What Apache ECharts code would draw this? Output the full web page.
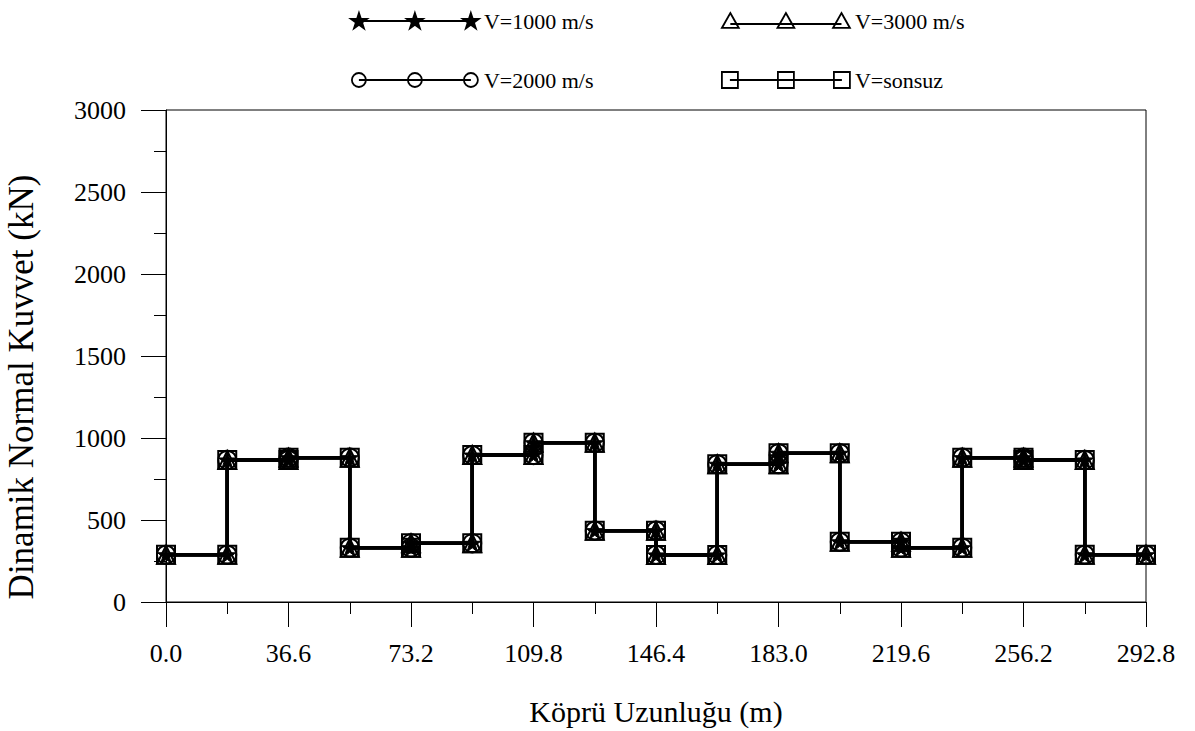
<!DOCTYPE html>
<html>
<head>
<meta charset="utf-8">
<script src="https://cdn.jsdelivr.net/npm/echarts@6/dist/echarts.min.js"></script>
<style>
html,body{margin:0;padding:0;background:#ffffff;}
#chart{width:1195px;height:731px;}
</style>
</head>
<body>
<div id="chart"></div>
<script>
// ---- data ----
const nodePositions = [0, 18.3, 36.6, 54.9, 73.2, 91.5, 109.8, 128.1, 146.4, 164.7, 183.0, 201.3, 219.6, 237.9, 256.2, 274.5, 292.8];
const xTickLabels = ['0.0', '36.6', '73.2', '109.8', '146.4', '183.0', '219.6', '256.2', '292.8'];
const yTickLabels = ['0', '500', '1000', '1500', '2000', '2500', '3000'];
const seriesNames = ['V=1000 m/s', 'V=2000 m/s', 'V=3000 m/s', 'V=sonsuz'];
// constant force in each 18.3 m element (kN)
const forcesV1000 = [288, 866, 880, 331, 358, 896, 971, 435, 287, 840, 907, 367, 331, 880, 866, 288];
const forcesV2000 = [288, 866, 880, 331, 358, 896, 971, 435, 287, 840, 907, 367, 331, 880, 866, 288];
const forcesV3000 = [288, 866, 880, 331, 358, 896, 971, 435, 287, 840, 907, 367, 331, 880, 866, 288];
const forcesVInf  = [288, 866, 880, 331, 358, 896, 971, 435, 287, 840, 907, 367, 331, 880, 866, 288];

const FONT = 'Liberation Serif';

function stepPoints(forces) {
  const pts = [];
  forces.forEach(function (f, i) {
    pts.push([nodePositions[i], f]);
    pts.push([nodePositions[i + 1], f]);
  });
  return pts;
}

function starPath(cx, cy, R) {
  const r = R * 0.382;
  let d = '';
  for (let k = 0; k < 10; k++) {
    const a = (-90 + 36 * k) * Math.PI / 180;
    const rad = k % 2 === 0 ? R : r;
    const x = (cx + rad * Math.cos(a)).toFixed(2);
    const y = (cy + rad * Math.sin(a)).toFixed(2);
    d += (k === 0 ? 'M' : 'L') + x + ' ' + y + ' ';
  }
  return d + 'Z ';
}

const ICON_W = 128, ICON_H = 20;
const iconCenters = [8, 64, 120];
const frame = 'M0 0 M' + ICON_W + ' ' + ICON_H + ' ';

function legendStar() {
  let d = frame + 'M8 10 L120 10 ';
  iconCenters.forEach(function (c) { d += starPath(c, 10.5, 8.5); });
  return 'path://' + d;
}
function legendCircle() {
  let d = frame + 'M8 10 L120 10 ';
  iconCenters.forEach(function (c) {
    d += 'M' + (c - 7) + ' 10 A7 7 0 1 0 ' + (c + 7) + ' 10 A7 7 0 1 0 ' + (c - 7) + ' 10 Z ';
  });
  return 'path://' + d;
}
function legendTriangle() {
  let d = frame + 'M8 13 L120 13 ';
  iconCenters.forEach(function (c) {
    d += 'M' + c + ' 2 L' + (c + 8.5) + ' 17 L' + (c - 8.5) + ' 17 Z ';
  });
  return 'path://' + d;
}
function legendSquare() {
  let d = frame + 'M8 10 L120 10 ';
  iconCenters.forEach(function (c) {
    d += 'M' + (c - 8) + ' 2 L' + (c + 8) + ' 2 L' + (c + 8) + ' 18 L' + (c - 8) + ' 18 Z ';
  });
  return 'path://' + d;
}

const legendHollow = { color: 'rgba(0,0,0,0)', borderColor: '#000', borderWidth: 1.8 };
const markerHollow = { color: 'rgba(0,0,0,0)', borderColor: '#000', borderWidth: 2 };

const chart = echarts.init(document.getElementById('chart'), null, { renderer: 'svg' });

const legendText = { fontFamily: FONT, fontSize: 22, color: '#000', lineHeight: 20 };

const option = {
  animation: false,
  backgroundColor: '#ffffff',
  grid: { left: 166, right: 49, top: 110, bottom: 129, show: true, borderColor: '#000', borderWidth: 1, containLabel: false, outerBoundsMode: 'none' },
  legend: [
    {
      left: 350, top: 10, orient: 'vertical', padding: 0,
      itemWidth: ICON_W, itemHeight: ICON_H, itemGap: 37,
      selectedMode: false, textStyle: legendText,
      data: [
        { name: seriesNames[0], icon: legendStar(), itemStyle: { color: '#000', borderColor: '#000', borderWidth: 1.8 } },
        { name: seriesNames[1], icon: legendCircle(), itemStyle: legendHollow }
      ]
    },
    {
      left: 721, top: 10, orient: 'vertical', padding: 0,
      itemWidth: ICON_W, itemHeight: ICON_H, itemGap: 37,
      selectedMode: false, textStyle: legendText,
      data: [
        { name: seriesNames[2], icon: legendTriangle(), itemStyle: legendHollow },
        { name: seriesNames[3], icon: legendSquare(), itemStyle: legendHollow }
      ]
    }
  ],
  xAxis: {
    type: 'value', min: 0, max: 292.8, interval: 36.6,
    name: 'Köprü Uzunluğu (m)', nameLocation: 'middle', nameGap: 94,
    nameTextStyle: { fontFamily: FONT, fontSize: 30, color: '#000' },
    axisLine: { show: true, onZero: false, lineStyle: { color: '#000', width: 1 } },
    axisTick: { show: true, inside: false, length: 25, lineStyle: { color: '#000', width: 1 } },
    minorTick: { show: true, splitNumber: 2, length: 12, lineStyle: { color: '#000', width: 1 } },
    splitLine: { show: false },
    axisLabel: {
      margin: 38, fontFamily: FONT, fontSize: 26, color: '#000',
      formatter: function (v) { return xTickLabels[Math.round(v / 36.6)]; }
    }
  },
  yAxis: {
    type: 'value', min: 0, max: 3000, interval: 500,
    name: 'Dinamik Normal Kuvvet (kN)', nameLocation: 'middle', nameGap: 127,
    nameTextStyle: { fontFamily: FONT, fontSize: 35, color: '#000', padding: [0, 62, 0, 0] },
    axisLine: { show: true, lineStyle: { color: '#000', width: 1 } },
    axisTick: { show: true, inside: false, length: 25, lineStyle: { color: '#000', width: 1 } },
    minorTick: { show: true, splitNumber: 2, length: 12, lineStyle: { color: '#000', width: 1 } },
    splitLine: { show: false },
    axisLabel: {
      margin: 40, fontFamily: FONT, fontSize: 26, color: '#000',
      formatter: function (v) { return yTickLabels[Math.round(v / 500)]; }
    }
  },
  series: [
    {
      name: seriesNames[0], type: 'line', data: stepPoints(forcesV1000),
      symbol: 'path://' + starPath(10, 10, 10), symbolSize: 17, showAllSymbol: true,
      lineStyle: { color: '#000', width: 3.5 },
      itemStyle: { color: '#000', borderColor: '#000', borderWidth: 1 }, z: 2
    },
    {
      name: seriesNames[1], type: 'line', data: stepPoints(forcesV2000),
      symbol: 'circle', symbolSize: 18, showAllSymbol: true,
      lineStyle: { color: '#000', width: 3.5 },
      itemStyle: markerHollow, z: 3
    },
    {
      name: seriesNames[2], type: 'line', data: stepPoints(forcesV3000),
      symbol: 'triangle', symbolSize: 18, showAllSymbol: true,
      lineStyle: { color: '#000', width: 3.5 },
      itemStyle: markerHollow, z: 4
    },
    {
      name: seriesNames[3], type: 'line', data: stepPoints(forcesVInf),
      symbol: 'rect', symbolSize: 18, showAllSymbol: true,
      lineStyle: { color: '#000', width: 3.5 },
      itemStyle: markerHollow, z: 5
    }
  ]
};

chart.setOption(option);
</script>
</body>
</html>
